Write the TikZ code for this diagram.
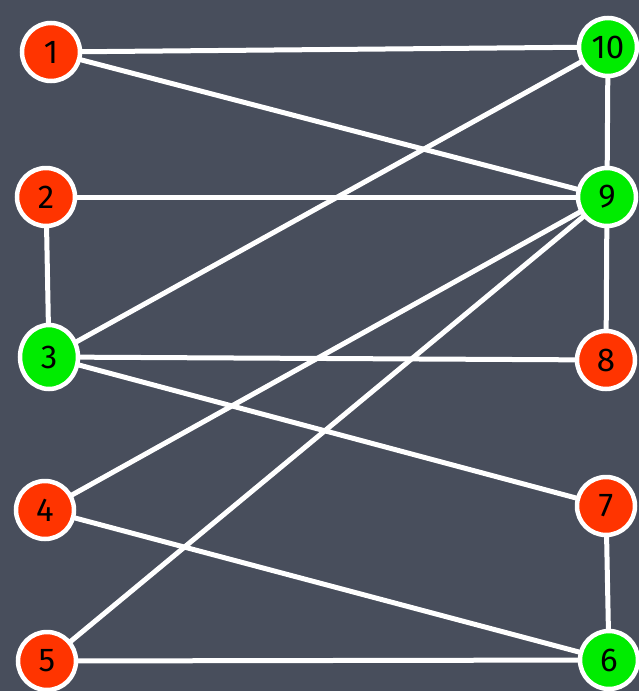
\documentclass[tikz,border=0pt]{standalone}
\usepackage{fontspec}
\setmainfont{Fira Sans}
\usetikzlibrary{shapes.geometric}
\definecolor{bg}{RGB}{72,78,92}
\definecolor{nred}{RGB}{255,52,0}
\definecolor{ngreen}{RGB}{0,236,0}
\begin{document}
\begin{tikzpicture}[x=1pt,y=-1pt,
  vert/.style={circle,draw=white,line width=4.5pt,minimum size=58pt,inner sep=0pt,font=\fontsize{33}{33}\selectfont},
  rv/.style={vert,fill=nred},
  gv/.style={vert,fill=ngreen},
  edge/.style={draw=white,line width=5pt}]
\fill[bg] (0,0) rectangle (639,691);
\useasboundingbox (0,0) rectangle (639,691);
\coordinate (c1) at (51,52);
\coordinate (c2) at (46,197);
\coordinate (c3) at (49,357);
\coordinate (c4) at (45,510);
\coordinate (c5) at (47,661);
\coordinate (c10) at (608,47);
\coordinate (c9) at (607,197);
\coordinate (c8) at (606,360);
\coordinate (c7) at (606,506);
\coordinate (c6) at (609,660);
\foreach \a/\b in {1/10,1/9,2/9,2/3,3/10,3/8,3/7,4/9,4/6,5/9,5/6,10/9,9/8,7/6}
  \draw[edge] (c\a) -- (c\b);
\node[rv] (n1) at (c1) {1};
\node[rv] (n2) at (c2) {2};
\node[gv,ellipse,minimum height=64pt,minimum width=58pt] (n3) at (c3) {3};
\node[rv] (n4) at (c4) {4};
\node[rv] (n5) at (c5) {5};
\node[gv] (n10) at (c10) {10};
\node[gv] (n9) at (c9) {9};
\node[rv] (n8) at (c8) {8};
\node[rv] (n7) at (c7) {7};
\node[gv] (n6) at (c6) {6};
\end{tikzpicture}
\end{document}
